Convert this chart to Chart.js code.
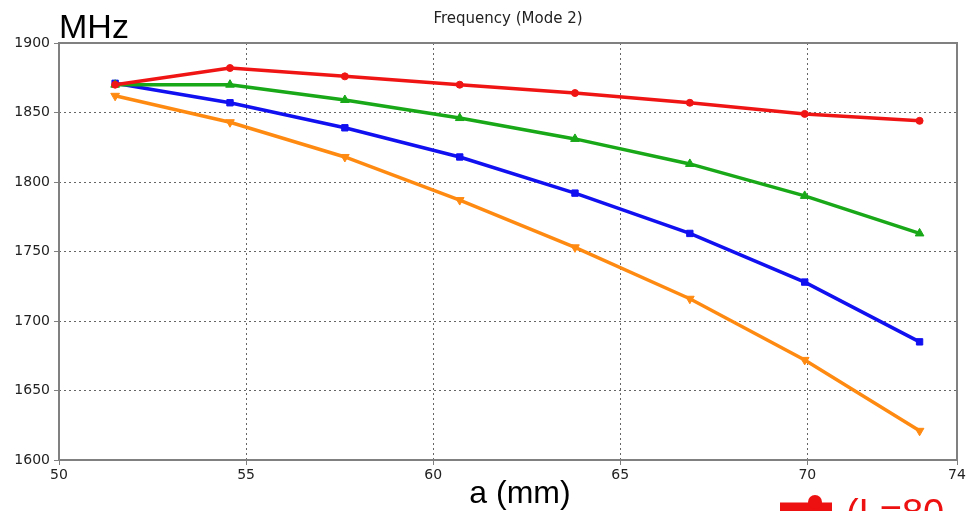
<!DOCTYPE html>
<html>
<head>
<meta charset="utf-8">
<script src="https://cdn.jsdelivr.net/npm/chart.js@4.4.0/dist/chart.umd.min.js"></script>
<style>
html,body{margin:0;padding:0;background:#fff;}
#wrap{width:968px;height:511px;position:relative;}
</style>
</head>
<body>
<div id="wrap"><canvas id="c" width="968" height="511"></canvas></div>
<script>
const xValues = [51.5, 54.57, 57.64, 60.71, 63.79, 66.86, 69.93, 73];
const redSeries = [1870, 1882, 1876, 1870, 1864, 1857, 1849, 1844];
const greenSeries = [1870, 1870, 1859, 1846, 1831, 1813, 1790, 1763];
const blueSeries = [1871, 1857, 1839, 1818, 1792, 1763, 1728, 1685];
const orangeSeries = [1862, 1843, 1818, 1787, 1753, 1716, 1672, 1621];
const xTicks = [50, 55, 60, 65, 70, 74];
const yTicks = [1600, 1650, 1700, 1750, 1800, 1850, 1900];
const chartTitle = 'Frequency (Mode 2)';
const yUnit = 'MHz';
const xTitle = 'a (mm)';
const legendFragment = '(L=80';

function pts(arr){ return arr.map((v,i)=>({x:xValues[i], y:v})); }

const ds = (label, data, color, style, radius, rot) => ({
  label, data: pts(data), borderColor: color, backgroundColor: color,
  borderWidth: 3.5, pointStyle: style, pointRadius: radius, pointRotation: rot||0,
  pointBorderWidth: 1, tension: 0, fill: false
});

const overlay = {
  id: 'overlay',
  afterDraw(chart){
    const ctx = chart.ctx, a = chart.chartArea;
    ctx.save();
    ctx.fillStyle = '#222';
    ctx.font = '15px "DejaVu Sans", Verdana, sans-serif';
    ctx.textAlign = 'center'; ctx.textBaseline = 'alphabetic';
    ctx.fillText(chartTitle, 508, 23);
    ctx.fillStyle = '#000';
    ctx.font = '34px "Liberation Sans", Arial, sans-serif';
    ctx.textAlign = 'left';
    ctx.fillText(yUnit, 59, 38);
    ctx.font = '32px "Liberation Sans", Arial, sans-serif';
    ctx.textAlign = 'center';
    ctx.fillText(xTitle, 520, 503);
    // legend fragment
    ctx.strokeStyle = '#ee1111'; ctx.lineWidth = 9;
    ctx.beginPath(); ctx.moveTo(780, 507); ctx.lineTo(832, 507); ctx.stroke();
    ctx.fillStyle = '#ee1111';
    ctx.beginPath(); ctx.arc(815, 502, 7, 0, Math.PI*2); ctx.fill();
    ctx.font = '38px "Liberation Sans", Arial, sans-serif';
    ctx.textAlign = 'left';
    ctx.fillText(legendFragment, 846, 526);
    // frame
    ctx.strokeStyle = '#808080'; ctx.lineWidth = 2;
    ctx.strokeRect(a.left, a.top, a.right-a.left, a.bottom-a.top);
    ctx.restore();
  }
};

const gridOpts = {
  color: '#666', lineWidth: 1, tickLength: 5, drawTicks: true, tickColor:'#808080'
};
const tickFont = { family: '"DejaVu Sans", Verdana, sans-serif', size: 14 };

new Chart(document.getElementById('c'), {
  type: 'line',
  data: {
    datasets: [
      ds('red', redSeries, '#f01515', 'circle', 3.5),
      ds('green', greenSeries, '#18a818', 'triangle', 5),
      ds('blue', blueSeries, '#1010f0', 'rect', 4.5),
      ds('orange', orangeSeries, '#ff8a12', 'triangle', 5, 180)
    ]
  },
  options: {
    responsive: false, animation: false,
    layout: { padding: { top: 43, right: 11, left: 0, bottom: 0 } },
    plugins: { legend: { display: false }, title: { display: false }, tooltip: { enabled: false } },
    scales: {
      x: {
        type: 'linear', min: 50, max: 74,
        afterBuildTicks: s => { s.ticks = xTicks.map(v => ({value: v})); },
        afterFit: s => { s.height = 51; },
        grid: Object.assign({}, gridOpts),
        border: { display: false, dash: [2, 3] },
        ticks: { color: '#222', font: tickFont, padding: 2, maxRotation: 0, autoSkip: false, callback: v => String(v) }
      },
      y: {
        min: 1600, max: 1900,
        afterBuildTicks: s => { s.ticks = yTicks.map(v => ({value: v})); },
        afterFit: s => { s.width = 59; },
        grid: Object.assign({}, gridOpts),
        border: { display: false, dash: [2, 3] },
        ticks: { color: '#222', font: tickFont, padding: 4, callback: v => String(v) }
      }
    }
  },
  plugins: [overlay]
});
</script>
</body>
</html>
